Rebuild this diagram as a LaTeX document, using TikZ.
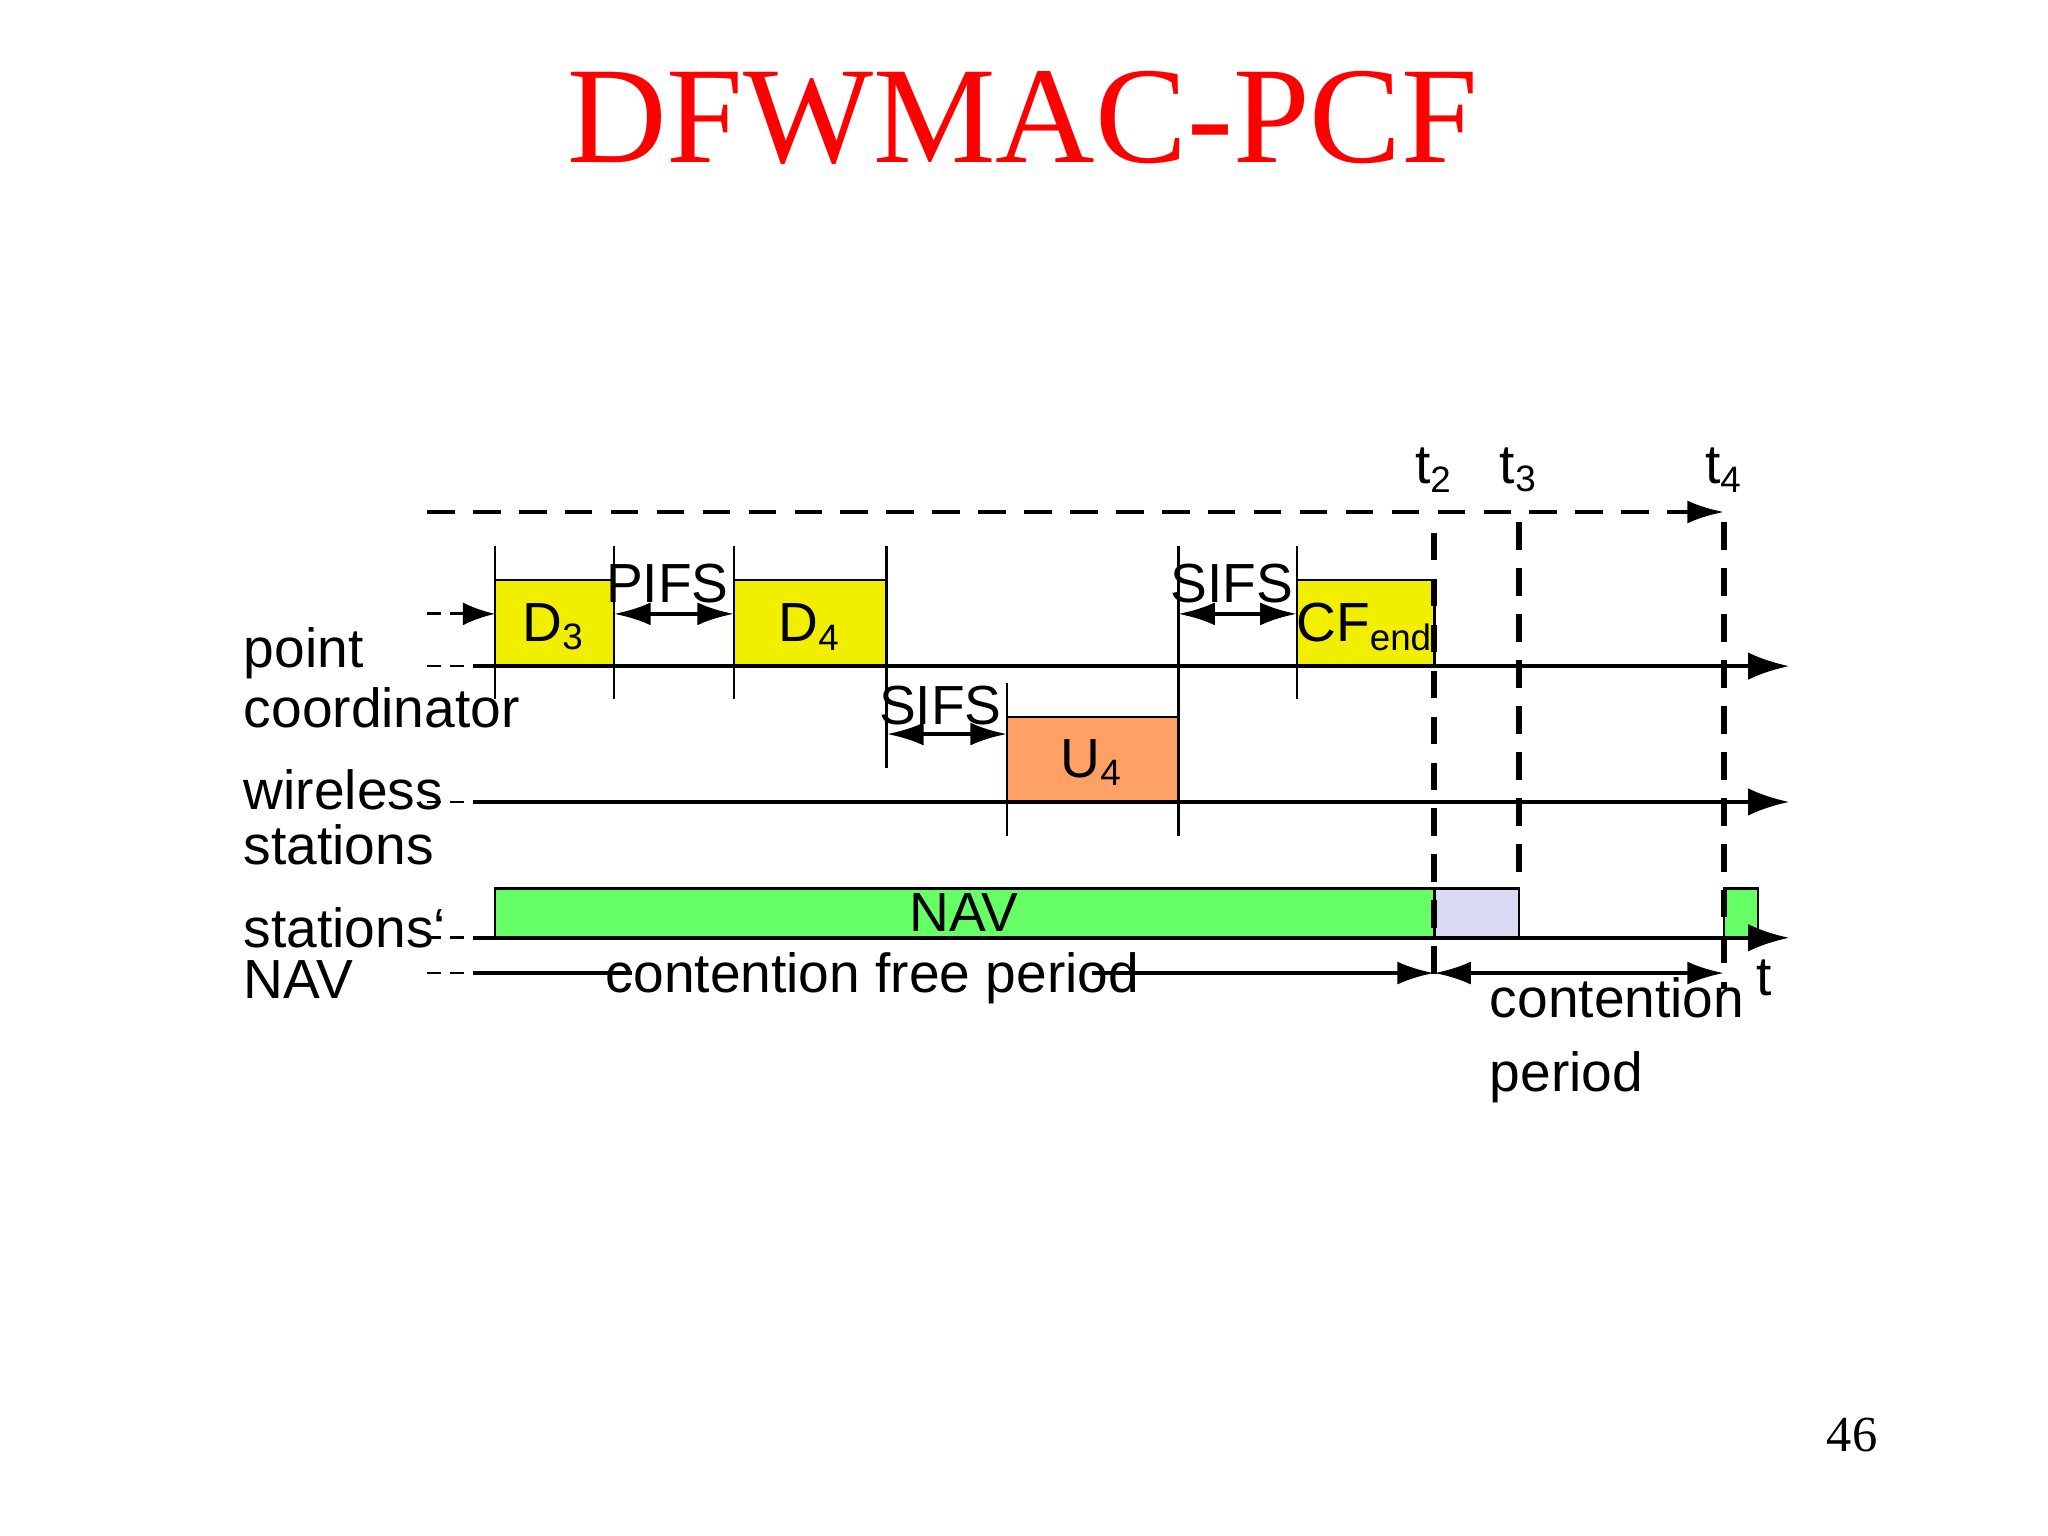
\documentclass[tikz,border=0pt]{standalone}
\usepackage{fontspec}
\setmainfont{Liberation Sans}
\newfontfamily\seriff{Liberation Serif}
\usetikzlibrary{arrows.meta}
\definecolor{ylw}{RGB}{242,238,0}
\definecolor{org}{RGB}{255,160,100}
\definecolor{grn}{RGB}{102,255,102}
\definecolor{lav}{RGB}{218,218,242}
\tikzset{
  ax/.style={line width=0.9pt,-{Latex[length=9pt,width=6pt]}},
  dsh/.style={line width=0.6pt,dash pattern=on 3pt off 2pt},
  tdash/.style={line width=1.4pt,dash pattern=on 6pt off 4pt},
  tick/.style={line width=0.6pt},
  frame/.style={draw,line width=0.6pt},
  dbl/.style={line width=0.9pt,{Latex[length=8pt,width=5pt]}-{Latex[length=8pt,width=5pt]}},
  lbl/.style={font=\fontsize{12}{14}\selectfont,inner sep=0pt},
  side/.style={font=\fontsize{12}{14}\selectfont,anchor=west,inner sep=0pt}
}
\begin{document}
\begin{tikzpicture}[x=0.01cm,y=-0.01cm]
\useasboundingbox[fill=white] (0,0) rectangle (1568,1176);
\node[red,font=\seriff\fontsize{30}{34}\selectfont] (title) at (783,90) {DFWMAC-PCF};
\node[font=\seriff\fontsize{11}{13}\selectfont] (pg) at (1418,1099) {46};
% top time line
\coordinate (tl) at (327,392); \coordinate (t4top) at (1320,392);
\draw[tdash,line width=0.9pt,-{Latex[length=8pt,width=5pt]}] (tl) -- (t4top);
\node[lbl] (t2) at (1098,360) {t\textsubscript{2}};
\node[lbl] (t3) at (1163,360) {t\textsubscript{3}};
\node[lbl] (t4) at (1320,360) {t\textsubscript{4}};
% boxes
\draw[frame,fill=ylw] (379,444) rectangle (470,510);
\draw[frame,fill=ylw] (562,444) rectangle (679,510);
\draw[frame,fill=ylw] (993,444) rectangle (1098,510);
\draw[frame,fill=org] (771,549) rectangle (902,614);
\draw[frame,fill=grn] (379,680) rectangle (1098,718);
\draw[frame,fill=lav] (1098,680) rectangle (1163,718);
\draw[frame,fill=grn] (1320,680) rectangle (1346,718);
\node[lbl] (d3) at (424,480) {D\textsubscript{3}};
\node[lbl] (d4) at (620,480) {D\textsubscript{4}};
\node[lbl] (cf) at (1045,480) {CF\textsubscript{end}};
\node[lbl] (u4) at (836,584) {U\textsubscript{4}};
\node[lbl] (nav) at (738,699) {NAV};
% ticks
\draw[tick] (379,418) -- (379,535);
\draw[tick] (470,418) -- (470,535);
\draw[tick] (562,418) -- (562,535);
\draw[tick] (679,418) -- (679,588);
\draw[tick] (771,523) -- (771,640);
\draw[tick] (902,418) -- (902,640);
\draw[tick] (993,418) -- (993,535);
% axes
\coordinate (pc0) at (362,510); \coordinate (pc1) at (1370,510);
\coordinate (ws0) at (362,614); \coordinate (ws1) at (1370,614);
\coordinate (nv0) at (362,718); \coordinate (nv1) at (1370,718);
\draw[ax] (pc0) -- (pc1);
\draw[ax] (ws0) -- (ws1);
\draw[ax] (nv0) -- (nv1);
\draw[dsh] (327,510) -- (pc0);
\draw[dsh] (327,614) -- (ws0);
\draw[dsh] (327,718) -- (nv0);
\draw[dsh] (327,745) -- (362,745);
\draw[dsh,-{Latex[length=7pt,width=5pt]}] (327,470) -- (379,470);
% interframe spaces
\draw[dbl] (470,470) -- (562,470); \node[lbl] (pifs) at (511,447) {PIFS};
\draw[dbl] (679,562) -- (771,562); \node[lbl] (sifs1) at (720,540) {SIFS};
\draw[dbl] (902,470) -- (993,470); \node[lbl] (sifs2) at (943,447) {SIFS};
% vertical dashed
\draw[tdash] (1098,408) -- (1098,757);
\draw[tdash] (1163,400) -- (1163,680);
\draw[tdash] (1320,400) -- (1320,757);
% periods
\node[lbl] (cfp) at (668,749) {contention free period};
\draw[line width=0.9pt] (362,745) -- (484,745);
\draw[line width=0.9pt,-{Latex[length=8pt,width=5pt]}] (836,745) -- (1098,745);
\draw[dbl] (1098,745) -- (1320,745);
\node[lbl,anchor=north west,align=left] (cp) at (1140,748) {contention\\[2pt]period};
\node[lbl] (t) at (1351,749) {t};
% side labels
\node[side] (l1) at (186,500) {point};
\node[side] (l2) at (186,542) {coordinator};
\node[side] (l3) at (186,605) {wireless};
\node[side] (l4) at (186,647) {stations};
\node[side] (l5) at (186,710) {stations‘};
\node[side] (l6) at (186,750) {NAV};
\end{tikzpicture}
\end{document}
